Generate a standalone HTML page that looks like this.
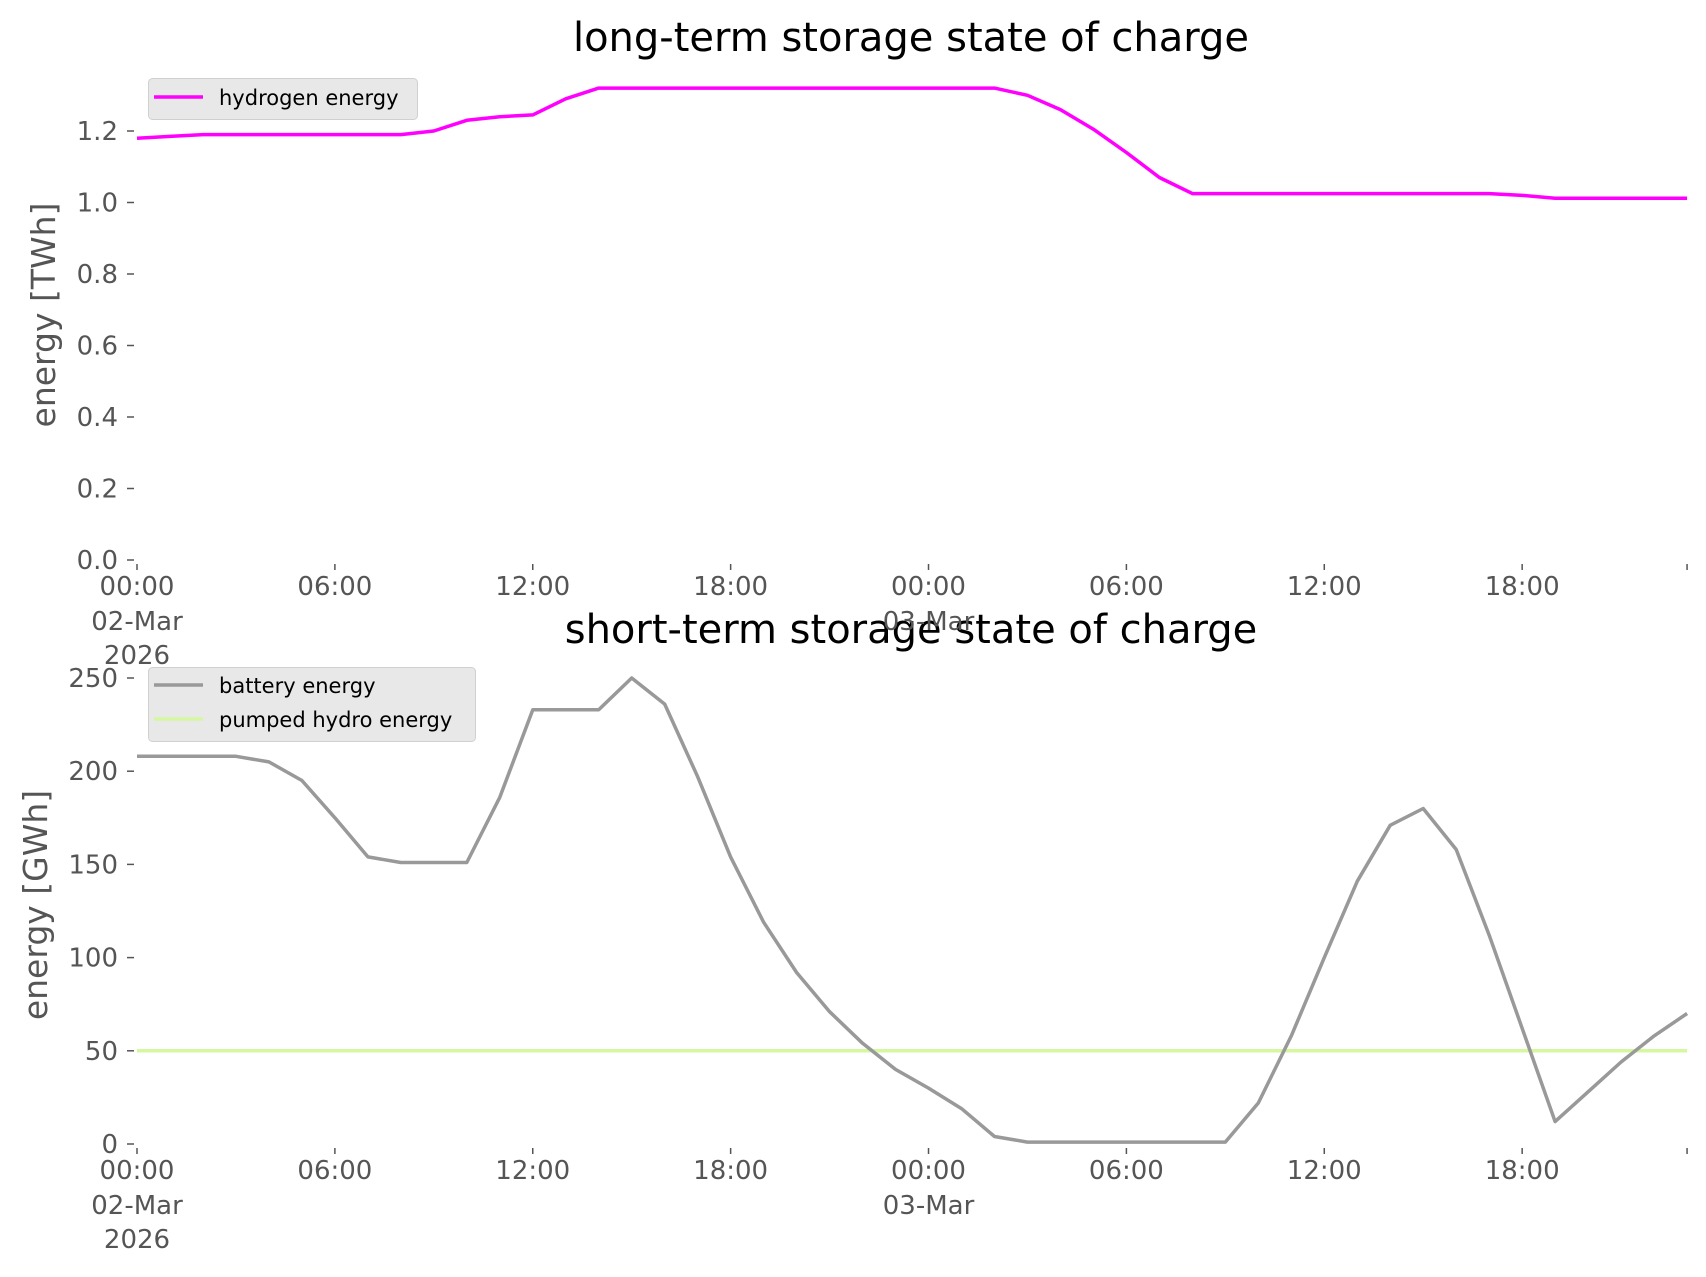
<!DOCTYPE html>
<html><head><meta charset="utf-8"><style>
html,body{margin:0;padding:0;background:#fff}
svg{display:block;font-family:"DejaVu Sans","Liberation Sans",sans-serif}
</style></head><body>
<svg id="s" width="1706" height="1277" xmlns="http://www.w3.org/2000/svg">
<rect width="1706" height="1277" fill="#fff"/>
<text x="911" y="51" font-size="40" text-anchor="middle" fill="#000">long-term storage state of charge</text>
<text x="911" y="643" font-size="40" text-anchor="middle" fill="#000">short-term storage state of charge</text>
<text transform="translate(55,315) rotate(-90)" font-size="33" text-anchor="middle" fill="#555">energy [TWh]</text>
<text transform="translate(47,905) rotate(-90)" font-size="33" text-anchor="middle" fill="#555">energy [GWh]</text>
<g id="g"></g>
</svg>
<script>
var X0=137,DX=32.98;
var h2=[1.18,1.185,1.19,1.19,1.19,1.19,1.19,1.19,1.19,1.2,1.23,1.24,1.245,1.29,1.32,1.32,1.32,1.32,1.32,1.32,1.32,1.32,1.32,1.32,1.32,1.32,1.32,1.30,1.26,1.205,1.14,1.07,1.025,1.025,1.025,1.025,1.025,1.025,1.025,1.025,1.025,1.025,1.02,1.012,1.012,1.012,1.012,1.012];
var bat=[208,208,208,208,205,195,175,154,151,151,151,186,233,233,233,250,236,197,154,119,92,71,54,40,30,19,4,1,1,1,1,1,1,1,22,58,100,141,171,180,158,112,62,12,28,44,58,70];
var o='';
function ty(v){return 560-v/0.2*71.5}
function by(v){return 1144-v/50*93.2}
function pts(a,f){return a.map(function(v,i){return (X0+i*DX).toFixed(1)+','+f(v).toFixed(1)}).join(' ')}
for(var i=0;i<=6;i++){var y=ty(i*0.2);o+='<line x1="127" x2="134" y1="'+y+'" y2="'+y+'" stroke="#555" stroke-width="1.5"/><text x="118" y="'+(y+9)+'" font-size="26" text-anchor="end" fill="#555">'+(i*0.2).toFixed(1)+'</text>';}
for(var i=0;i<=5;i++){var y=by(i*50);o+='<line x1="127" x2="134" y1="'+y+'" y2="'+y+'" stroke="#555" stroke-width="1.5"/><text x="118" y="'+(y+9)+'" font-size="26" text-anchor="end" fill="#555">'+(i*50)+'</text>';}
var labs=['00:00','06:00','12:00','18:00','00:00','06:00','12:00','18:00'];
[[560,595],[1144,1179]].forEach(function(ax,k){
 for(var j=0;j<8;j++){var x=X0+j*6*DX;o+='<line x1="'+x+'" x2="'+x+'" y1="'+(ax[0]+4)+'" y2="'+(ax[0]+10)+'" stroke="#555" stroke-width="1.5"/><text x="'+x+'" y="'+ax[1]+'" font-size="26" text-anchor="middle" fill="#555">'+labs[j]+'</text>';}
 var xe=X0+47*DX;o+='<line x1="'+xe+'" x2="'+xe+'" y1="'+(ax[0]+4)+'" y2="'+(ax[0]+10)+'" stroke="#555" stroke-width="1.5"/>';
 o+='<text x="'+X0+'" y="'+(ax[1]+35)+'" font-size="26" text-anchor="middle" fill="#555">02-Mar</text><text x="'+X0+'" y="'+(ax[1]+69)+'" font-size="26" text-anchor="middle" fill="#555">2026</text>';
 o+='<text x="'+(X0+24*DX)+'" y="'+(ax[1]+35)+'" font-size="26" text-anchor="middle" fill="#555">03-Mar</text>';
});
o+='<polyline points="'+pts(h2,ty)+'" fill="none" stroke="#ff00ff" stroke-width="3.5" stroke-linejoin="round"/>';
o+='<line x1="'+X0+'" x2="'+(X0+47*DX)+'" y1="'+by(50)+'" y2="'+by(50)+'" stroke="#d4f7a0" stroke-width="3.5"/>';
o+='<polyline points="'+pts(bat,by)+'" fill="none" stroke="#999999" stroke-width="3.5" stroke-linejoin="round"/>';
o+='<rect x="148.5" y="78.5" width="269" height="41" rx="4" fill="#e8e8e8" stroke="#d0d0d0"/><line x1="154" x2="203" y1="97" y2="97" stroke="#ff00ff" stroke-width="3.5"/><text x="219" y="105" font-size="21" fill="#000">hydrogen energy</text>';
o+='<rect x="148.5" y="667.5" width="327" height="74" rx="4" fill="#e8e8e8" stroke="#d0d0d0"/><line x1="154" x2="203" y1="685" y2="685" stroke="#999" stroke-width="3.5"/><text x="219" y="693" font-size="21" fill="#000">battery energy</text><line x1="154" x2="203" y1="719" y2="719" stroke="#d4f7a0" stroke-width="3.5"/><text x="219" y="727" font-size="21" fill="#000">pumped hydro energy</text>';
document.getElementById('g').innerHTML=o;
</script>
</body></html>
